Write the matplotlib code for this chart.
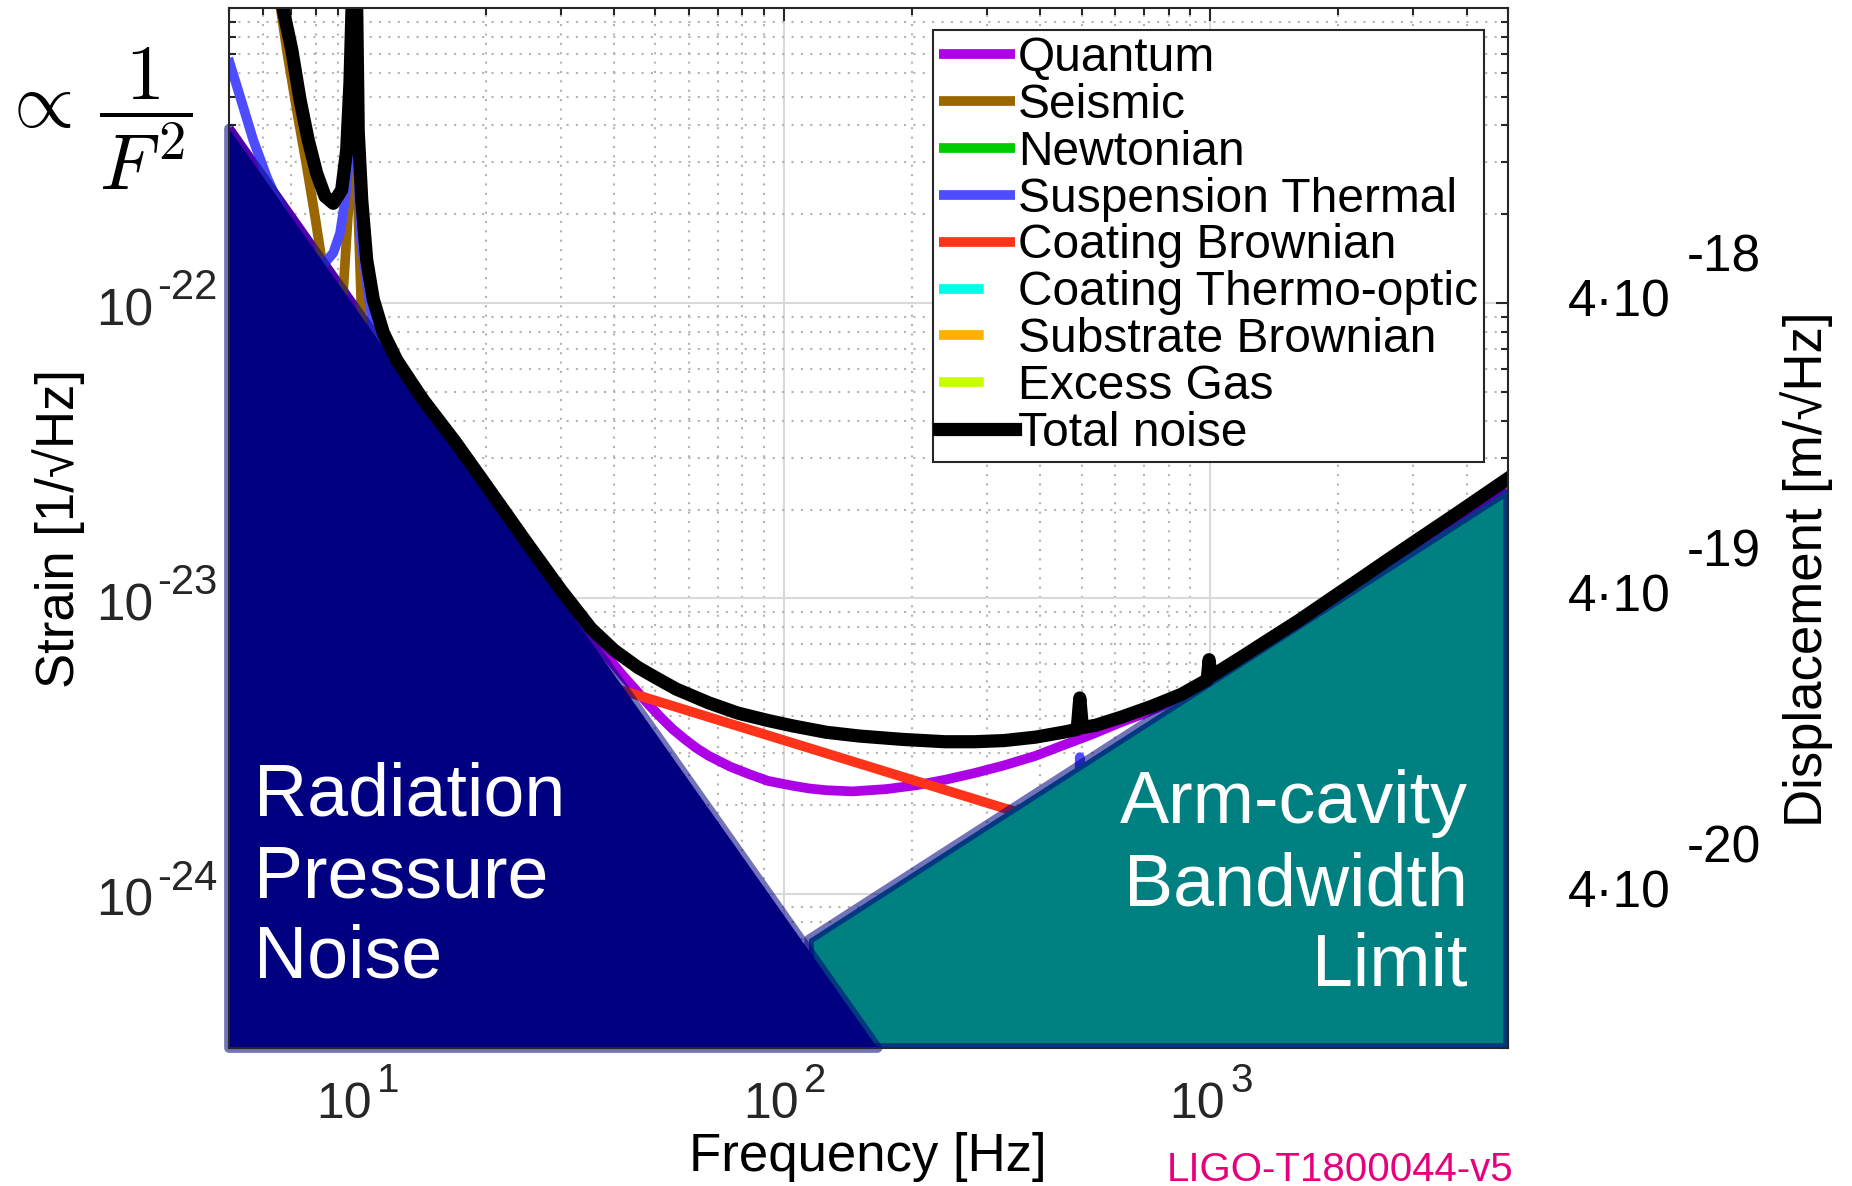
import numpy as np
import matplotlib.pyplot as plt
import matplotlib.ticker as mticker
import matplotlib.transforms as mtransforms
from matplotlib.patches import Polygon

plt.rcParams['font.family'] = ['Liberation Sans', 'DejaVu Sans']
plt.rcParams['mathtext.fontset'] = 'custom'
plt.rcParams['mathtext.rm'] = 'Liberation Sans'
plt.rcParams['mathtext.it'] = 'Liberation Sans:italic'
plt.rcParams['mathtext.bf'] = 'Liberation Sans:bold'

# --- noise curves, strain [1/sqrt(Hz)] vs frequency [Hz] ---
quantum_f = [5, 10, 20, 30, 38.8, 42, 45.5, 48.5, 51.7, 55, 58.7, 62.5, 66.7, 75, 83, 91.8,
             105, 115, 126, 145, 174, 205, 239, 280, 329, 390, 452, 530, 622, 700, 778,
             1000, 1500, 2500, 5000]
quantum_h = [3.9e-22, 9.4e-23, 2.3e-23, 1.03e-23, 6.29e-24, 5.47e-24, 4.81e-24, 4.33e-24,
             3.93e-24, 3.60e-24, 3.33e-24, 3.11e-24, 2.93e-24, 2.69e-24, 2.54e-24, 2.41e-24,
             2.32e-24, 2.27e-24, 2.24e-24, 2.22e-24, 2.26e-24, 2.33e-24, 2.43e-24, 2.56e-24,
             2.72e-24, 2.93e-24, 3.18e-24, 3.47e-24, 3.82e-24, 4.07e-24, 4.35e-24,
             5.25e-24, 7.5e-24, 1.18e-23, 2.3e-23]

seismic_f = [6.3, 6.83, 7.21, 7.61, 7.96, 8.25, 8.8, 9.27, 9.55, 9.85, 10.05, 10.24, 11.0,
             12.5, 14.6, 18]
seismic_h = [1.6e-21, 7.21e-22, 4.51e-22, 2.9e-22, 1.96e-22, 1.4e-22, 5e-23, 1.11e-22,
             2.2e-22, 8e-22, 2.0e-22, 9.0e-23, 3e-23, 4e-24, 2.8e-25, 1e-26]

newtonian_f = [5, 10, 20, 36, 60, 100, 1000, 5000]
newtonian_h = [4e-23, 3e-24, 8e-25, 3e-25, 1.2e-25, 5e-26, 5e-28, 2e-29]

susp_f = [4.98, 5.31, 5.70, 6.13, 6.59, 6.83, 7.4, 8.0, 8.32, 8.78, 9.11, 9.36, 9.53, 9.70,
          9.85, 10.0, 10.15, 10.52, 10.81, 12, 14, 20, 30, 45, 58, 80, 150, 400,
          490, 495, 500, 985, 990, 995, 3470, 3480, 3490, 5000]
susp_h = [6.76e-22, 5.0e-22, 3.57e-22, 2.68e-22, 2.12e-22, 1.91e-22, 1.6e-22, 1.4e-22,
          1.35e-22, 1.48e-22, 1.73e-22, 2.24e-22, 2.9e-22, 3.76e-22, 2.5e-21, 4e-22,
          1.73e-22, 1.17e-22, 9.0e-23, 4e-23, 1.8e-23, 4e-24, 1.1e-24, 4.5e-25, 2.9e-25,
          1.6e-25, 9e-26, 6e-26, 5.5e-26, 2.9e-24, 5.5e-26, 4e-26, 1.5e-24, 4e-26,
          2.5e-26, 1e-24, 2.5e-26, 2e-26]

coat_brown_f = [5, 45.5, 328, 5000]
coat_brown_h = [1.2e-23, 4.7e-24, 1.95e-24, 6.5e-25]

coat_to_f = [5, 100, 533, 5000]
coat_to_h = [3e-24, 6.5e-25, 3e-25, 1.2e-25]

subs_brown_f = [5, 115, 823, 5000]
subs_brown_h = [2e-24, 4.8e-25, 3e-25, 2e-25]

gas_f = [5, 1600, 5000]
gas_h = [2.6e-25, 2.9e-25, 2.5e-25]

total_f = [6.3, 7.02, 7.34, 7.67, 8.03, 8.40, 8.78, 9.19, 9.44, 9.61, 9.75, 9.85, 9.95,
           10.05, 10.24, 10.52, 10.90, 11.51, 12.37, 13.42, 14.28, 17, 20, 25, 30, 35.3,
           40, 45.5, 50, 56, 66.7, 78, 91.8, 105, 126, 150, 190, 239, 280, 329, 390, 452,
           488, 495, 502, 540, 622, 730, 856, 985, 995, 1005, 1178, 1400, 1620, 1900,
           2229, 2600, 3066, 3800, 5000]
total_h = [1.5e-21, 7.21e-22, 4.88e-22, 3.57e-22, 2.75e-22, 2.30e-22, 2.18e-22, 2.42e-22,
           3.30e-22, 5.6e-22, 1.2e-21, 3e-21, 1.2e-21, 3.8e-22, 2.24e-22, 1.40e-22,
           1.03e-22, 7.93e-23, 6.42e-23, 5.37e-23, 4.70e-23, 3.38e-23, 2.43e-23, 1.54e-23,
           1.07e-23, 7.92e-24, 6.68e-24, 5.84e-24, 5.40e-24, 4.93e-24, 4.43e-24, 4.09e-24,
           3.86e-24, 3.70e-24, 3.52e-24, 3.42e-24, 3.33e-24, 3.27e-24, 3.27e-24, 3.30e-24,
           3.39e-24, 3.52e-24, 3.6e-24, 4.6e-24, 3.65e-24, 3.72e-24, 3.97e-24, 4.31e-24,
           4.73e-24, 5.3e-24, 6.2e-24, 5.45e-24, 6.29e-24, 7.38e-24, 8.44e-24, 9.88e-24,
           1.155e-23, 1.345e-23, 1.58e-23, 1.945e-23, 2.55e-23]

# shaded limits (corner points)
rad_press_f = [5, 166, 5]
rad_press_h = [3.9e-22, 3e-25, 3e-25]
arm_cav_f = [114.7, 5000, 5000, 114.7]
arm_cav_h = [7.0e-25, 2.33e-23, 3e-25, 3e-25]

# tick values
freq_ticks = [10, 100, 1000]
strain_ticks = [1e-24, 1e-23, 1e-22]
# right axis: displacement = strain * arm length
arm_length = 4e4
disp_ticks = [4e-18, 4e-19, 4e-20]

dash = (0, (4.6, 4))
curves = [
    ('Quantum', quantum_f, quantum_h, '#ad00e6', '-'),
    ('Seismic', seismic_f, seismic_h, '#996600', '-'),
    ('Newtonian', newtonian_f, newtonian_h, '#00cc00', '-'),
    ('Suspension Thermal', susp_f, susp_h, '#4d4dff', '-'),
    ('Coating Brownian', coat_brown_f, coat_brown_h, '#ff3319', '-'),
    ('Coating Thermo-optic', coat_to_f, coat_to_h, '#00ffe6', dash),
    ('Substrate Brownian', subs_brown_f, subs_brown_h, '#ffb000', dash),
    ('Excess Gas', gas_f, gas_h, '#c8ff00', dash),
]

W, H = 1852, 1186
fig = plt.figure(figsize=(W / 100, H / 100), dpi=100)
ax = fig.add_axes([229 / W, 1 - 1048 / H, 1279 / W, 1040 / H])
ax.set_xscale('log')
ax.set_yscale('log')
ax.set_xlim(5, 5000)
ax.set_ylim(3e-25, 1e-21)

handles = []
for name, f, h, col, ls in curves:
    ln, = ax.plot(f, h, color=col, lw=7, ls=ls, solid_capstyle='butt', zorder=2, label=name)
    handles.append(ln)

edge = (0, 0, 0.5, 0.55)
ax.add_patch(Polygon(np.column_stack([arm_cav_f, arm_cav_h]), closed=True,
                     facecolor='#008080', edgecolor=edge, lw=7, joinstyle='round', zorder=3))
ax.add_patch(Polygon(np.column_stack([rad_press_f, rad_press_h]), closed=True,
                     facecolor='#000080', edgecolor=edge, lw=7, joinstyle='round',
                     zorder=3.5, clip_on=False))

tot, = ax.plot(total_f, total_h, color='black', lw=9.5, zorder=5, label='Total noise')
handles.append(tot)

# grid and ticks
ax.set_axisbelow(True)
ax.grid(which='major', color='#d9d9d9', lw=1.5, ls='-')
ax.grid(which='minor', color='#b3b3b3', lw=1.5, ls=(0, (1, 3.5)))
ax.set_xticks(freq_ticks)
ax.set_yticks(strain_ticks)
ax.xaxis.set_minor_locator(mticker.LogLocator(base=10, subs=np.arange(2, 10), numticks=20))
ax.yaxis.set_minor_locator(mticker.LogLocator(base=10, subs=np.arange(2, 10), numticks=20))
for axis in (ax.xaxis, ax.yaxis):
    axis.set_major_formatter(mticker.NullFormatter())
    axis.set_minor_formatter(mticker.NullFormatter())
ax.tick_params(which='both', direction='in', top=True, right=True, color='#262626', width=1.5)
ax.tick_params(which='major', length=9)
ax.tick_params(which='minor', length=5)
for sp in ax.spines.values():
    sp.set_linewidth(1.5)
    sp.set_color('#262626')
    sp.set_zorder(6)

# power-of-ten tick labels with raised exponents
tick_col = '#262626'
xb = mtransforms.blended_transform_factory(ax.transData, ax.transAxes)
for f in freq_ticks:
    e = int(round(np.log10(f)))
    ax.text(f, -0.0327, '10', transform=mtransforms.offset_copy(xb, fig=fig, x=15, units='dots'),
            fontsize=36, color=tick_col, ha='right', va='top')
    ax.text(f, -0.0423, str(e), transform=mtransforms.offset_copy(xb, fig=fig, x=20, units='dots'),
            fontsize=29, color=tick_col, ha='left', va='baseline')

yb = mtransforms.blended_transform_factory(ax.transAxes, ax.transData)
for h in strain_ticks:
    e = int(round(np.log10(h)))
    ax.text(-0.0594, h, '10', transform=mtransforms.offset_copy(yb, fig=fig, y=-22, units='dots'),
            fontsize=37, color=tick_col, ha='right', va='baseline')
    ax.text(-0.0563, h, f'-{abs(e)}', transform=mtransforms.offset_copy(yb, fig=fig, y=4, units='dots'),
            fontsize=30, color=tick_col, ha='left', va='baseline')

# displacement labels on the right
sup = mtransforms.offset_copy(yb, fig=fig, y=45, units='dots')
for d in disp_ticks:
    h = d / arm_length
    e = int(round(np.log10(d / 4)))
    ax.text(1.0469, h, '4·10', transform=yb, fontsize=37, ha='left', va='center')
    ax.text(1.140, h, f'-{abs(e)}', transform=sup, fontsize=37, ha='left', va='center')
ax.text(1.2338, 0.46, 'Displacement [m/√Hz]', transform=ax.transAxes, rotation=90,
        fontsize=38, ha='center', va='center')

ax.set_xlabel('Frequency [Hz]', fontsize=38)
ax.xaxis.set_label_coords(0.4996, -0.105)
ax.xaxis.label.set_va('center')
ax.set_ylabel('Strain [1/√Hz]', fontsize=38)
ax.yaxis.set_label_coords(-0.133, 0.5)
ax.yaxis.label.set_va('center')

leg = ax.legend(handles=handles, loc='upper left', bbox_to_anchor=(933 / W, 1 - 30 / H),
                bbox_transform=fig.transFigure, fontsize=34.5, handlelength=1.6,
                handletextpad=0.05, labelspacing=0.04, borderpad=0.12, borderaxespad=0,
                fancybox=False, framealpha=1, edgecolor='#262626')
leg.get_frame().set_linewidth(1.5)
leg.set_zorder(7)

for txt, y in zip(['Radiation', 'Pressure', 'Noise'], [815, 898, 978]):
    fig.text(254 / W, 1 - y / H, txt, color='white', fontsize=53, ha='left', va='baseline')
for txt, y in zip(['Arm-cavity', 'Bandwidth', 'Limit'], [823, 905, 986]):
    fig.text(1468 / W, 1 - y / H, txt, color='white', fontsize=53, ha='right', va='baseline')

fig.text(0.0, 1 - 119 / H, r'$\propto\,\dfrac{1}{F^2}$', fontsize=56,
         math_fontfamily='cm', ha='left', va='center')
fig.text(1167 / W, 1 - 1181 / H, 'LIGO-T1800044-v5', color='#e6007e', fontsize=29,
         ha='left', va='baseline')

fig.savefig('out.png', dpi=100)
